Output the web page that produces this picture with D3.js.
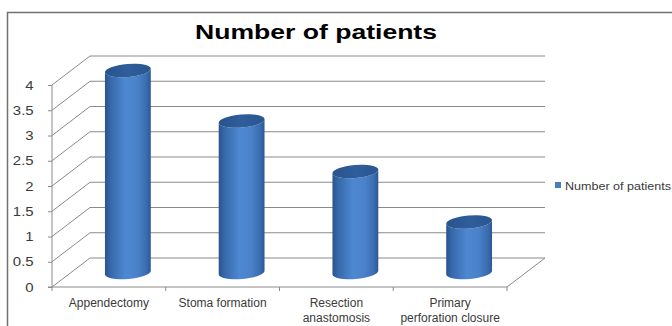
<!DOCTYPE html>
<html><head><meta charset="utf-8">
<script src="https://cdn.jsdelivr.net/npm/d3@7"></script>
<style>body{margin:0;background:#fff}svg{display:block}text{font-family:"Liberation Sans",Arial,sans-serif}</style>
</head><body>
<script>
const categories = ["Appendectomy", "Stoma formation", "Resection anastomosis", "Primary perforation closure"];
const categoryLines = [["Appendectomy"], ["Stoma formation"], ["Resection", "anastomosis"], ["Primary", "perforation closure"]];
const values = [4, 3, 2, 1];
const yTicks = [0, 0.5, 1, 1.5, 2, 2.5, 3, 3.5, 4];
const yTickLabels = ["0", "0.5", "1", "1.5", "2", "2.5", "3", "3.5", "4"];
const seriesName = "Number of patients";
const title = "Number of patients";

const W = 672, H = 326;
const svg = d3.select("body").append("svg").attr("width", W).attr("height", H);

const defs = svg.append("defs");
const gb = defs.append("linearGradient").attr("id", "body").attr("x1", 0).attr("x2", 1).attr("y1", 0).attr("y2", 0);
[[0, "#29548d"], [0.12, "#3668aa"], [0.45, "#4e88d1"], [0.7, "#4a82ca"], [0.9, "#3b6db1"], [1, "#2c5893"]]
  .forEach(([o, c]) => gb.append("stop").attr("offset", o).attr("stop-color", c));
const gt = defs.append("linearGradient").attr("id", "top").attr("x1", 0).attr("x2", 1).attr("y1", 0).attr("y2", 0);
[[0, "#28528b"], [0.5, "#2f5e9c"], [1, "#2a5690"]]
  .forEach(([o, c]) => gt.append("stop").attr("offset", o).attr("stop-color", c));

// frame
svg.append("rect").attr("x", 7.5).attr("y", 12.5).attr("width", 720).attr("height", 400)
  .attr("fill", "none").attr("stroke", "#707070").attr("stroke-width", 1.5);

// title
svg.append("text").attr("x", 316).attr("y", 39).attr("text-anchor", "middle")
  .attr("font-size", 21).attr("font-weight", "bold").attr("fill", "#000")
  .attr("textLength", 242).attr("lengthAdjust", "spacingAndGlyphs").text(title);

const x = d3.scaleBand().domain(categories).range([52, 507]).paddingInner(0).paddingOuter(0);
const y = d3.scaleLinear().domain([0, 4]).range([287, 85]);
const DX = 38, DY = -29;
const gridColor = "#8a8a8a";

const g = svg.append("g");
g.selectAll("line.back").data(yTicks).join("line")
  .attr("x1", 52 + DX).attr("x2", 507 + DX)
  .attr("y1", d => y(d) + DY).attr("y2", d => y(d) + DY)
  .attr("stroke", gridColor).attr("stroke-width", 1);
g.selectAll("line.side").data(yTicks).join("line")
  .attr("x1", 52).attr("x2", 52 + DX)
  .attr("y1", d => y(d)).attr("y2", d => y(d) + DY)
  .attr("stroke", gridColor).attr("stroke-width", 1);
g.append("line").attr("x1", 507).attr("y1", y(0)).attr("x2", 507 + DX).attr("y2", y(0) + DY)
  .attr("stroke", gridColor).attr("stroke-width", 1);

// axes
const yAxis = d3.axisLeft(y).tickValues(yTicks).tickFormat((d, i) => yTickLabels[i]).tickSize(4).tickPadding(12);
const ya = svg.append("g").attr("transform", "translate(52,0)").call(yAxis);
ya.attr("font-size", null).attr("font-family", null);
ya.select(".domain").attr("stroke", gridColor).attr("d", `M-4,${y(0)}H0V${y(4)}`);
ya.selectAll(".tick line").attr("stroke", gridColor);
ya.selectAll(".tick text").style("font-size", "13px").attr("fill", "#3a3a3a")
  .attr("transform", "scale(1.15,1)");

const xa = svg.append("g").attr("transform", `translate(0,${y(0)})`);
xa.append("line").attr("x1", 52).attr("x2", 507).attr("stroke", gridColor);
const bounds = categories.map(c => x(c)).concat([x(categories[categories.length - 1]) + x.bandwidth()]);
xa.selectAll("line.tk").data(bounds).join("line").attr("class", "tk")
  .attr("x1", d => d).attr("x2", d => d).attr("y1", 0).attr("y2", 4).attr("stroke", gridColor);
const lab = xa.selectAll("text").data(categories).join("text")
  .attr("text-anchor", "middle")
  .style("font-size", "12px").attr("fill", "#3a3a3a");
lab.each(function (d, i) {
  const cx = x(d) + x.bandwidth() / 2;
  d3.select(this).selectAll("tspan").data(categoryLines[i]).join("tspan")
    .attr("x", cx)
    .attr("y", (l, j) => 20 + j * 15).text(l => l);
});

// cylinders
const bw = 46, rx = bw / 2, ry = 6.5, ang = -5;
const rad = ang * Math.PI / 180;
const ex = rx * Math.cos(rad), ey = rx * Math.sin(rad);
const cyl = svg.append("g").selectAll("g").data(values).join("g");
cyl.each(function (v, i) {
  const cx = x(categories[i]) + x.bandwidth() / 2 + DX / 2;
  const yb = y(0) + DY / 2, yt = y(v) + DY / 2;
  const s = d3.select(this);
  const p = `M${cx - ex},${yt - ey} L${cx - ex},${yb - ey} A${rx},${ry} ${ang} 0 0 ${cx + ex},${yb + ey} L${cx + ex},${yt + ey} A${rx},${ry} ${ang} 0 1 ${cx - ex},${yt - ey} Z`;
  s.append("path").attr("d", p).attr("fill", "url(#body)");
  s.append("ellipse").attr("cx", cx).attr("cy", yt).attr("rx", rx).attr("ry", ry)
    .attr("transform", `rotate(${ang},${cx},${yt})`).attr("fill", "url(#top)");
});

// legend
const lg = svg.append("g");
lg.append("rect").attr("x", 555).attr("y", 182).attr("width", 6).attr("height", 6).attr("fill", "#4a7ebb");
lg.append("text").attr("x", 565).attr("y", 190).style("font-size", "11px").attr("fill", "#3a3a3a")
  .attr("textLength", 106).attr("lengthAdjust", "spacingAndGlyphs").text(seriesName);
</script>
</body></html>
